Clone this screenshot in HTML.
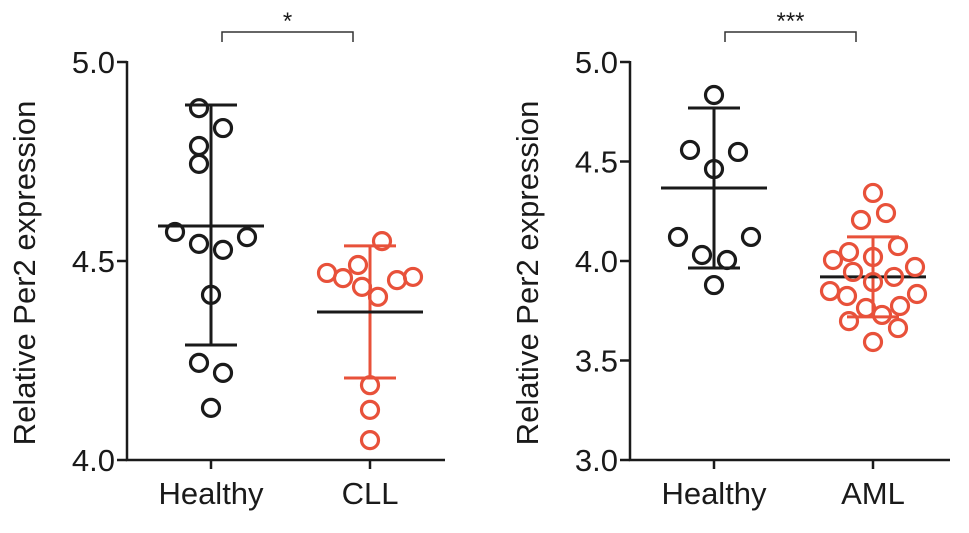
<!DOCTYPE html>
<html><head><meta charset="utf-8"><style>
body{margin:0;background:#fff}
svg{display:block;font-family:"Liberation Sans",Arial,sans-serif}
</style></head><body>
<svg id="c" width="969" height="533" viewBox="0 0 969 533"></svg>
<script>
const leftCats=["Healthy","CLL"];
const leftHealthy=[4.884,4.834,4.789,4.744,4.573,4.543,4.528,4.560,4.415,4.244,4.219,4.131];
const leftCLL=[4.550,4.490,4.470,4.457,4.435,4.410,4.452,4.460,4.188,4.126,4.050];
const leftStats=[[4.588,4.892,4.289],[4.372,4.538,4.206]];
const leftTicks=["4.0","4.5","5.0"];
const rightCats=["Healthy","AML"];
const rightHealthy=[4.834,4.558,4.548,4.462,4.121,4.121,4.030,4.005,3.879];
const rightAML=[4.342,4.241,4.206,4.075,4.045,4.020,4.005,3.970,3.945,3.920,3.894,3.849,3.824,3.834,3.764,3.774,3.729,3.698,3.663,3.593];
const rightStats=[[4.367,4.769,3.965],[3.920,4.121,3.719]];
const rightTicks=["3.0","3.5","4.0","4.5","5.0"];
const leftOff=[[-12,12,-12,-12,-36,-12,12,36,0,-12,12,0],[12,-12,-43,-27,-8,8,27,43,0,0,0]];
const rightOff=[[0,-24,24,0,-36,37,-12,13,0],[0,13,-12,25,-24,0,-40,42,-20,21,0,-43,-26,44,-7,27,9,-24,25,0]];
const NS="http://www.w3.org/2000/svg";
const svg=document.getElementById('c');
function el(t,a,p){const e=document.createElementNS(NS,t);for(const k in a)e.setAttribute(k,a[k]);(p||svg).appendChild(e);return e;}
const BLK="#1a1a1a",RED="#e8513a";
function panel(o){
  const g=el('g',{});
  
  
  const y=v=>o.y0+(v-o.vmin)/(o.vmax-o.vmin)*(o.y1-o.y0);
  const ax=el('path',{d:`M${o.ax},${o.y1-1}V${o.y0}H${o.ax+o.w}`,stroke:BLK,'stroke-width':2.5,fill:'none'},g);
  
  o.ticks.forEach(t=>{const v=parseFloat(t),yy=y(v);
    el('line',{x1:o.ax-10,x2:o.ax,y1:yy,y2:yy,stroke:BLK,'stroke-width':2.5},g);
    const tx=el('text',{x:o.ax-12,y:yy+11,'text-anchor':'end','font-size':31,fill:BLK},g);tx.textContent=t;
    });
  const yl=el('text',{transform:`translate(${o.ax-92},${(o.y0+o.y1)/2+12}) rotate(-90)`,'text-anchor':'middle','font-size':31,fill:BLK},g);
  yl.textContent="Relative Per2 expression";
  
  o.cats.forEach((c,i)=>{const cx=o.cx[i],col=i?RED:BLK;
    el('line',{x1:cx,x2:cx,y1:o.y0,y2:o.y0+9,stroke:BLK,'stroke-width':2.5},g);
    const tx=el('text',{x:cx,y:o.y0+44,'text-anchor':'middle','font-size':31,fill:BLK},g);tx.textContent=c;
    
    const s=o.stats[i];
    el('line',{x1:cx,x2:cx,y1:y(s[1]),y2:y(s[2]),stroke:col,'stroke-width':3},g);
    el('line',{x1:cx-26,x2:cx+26,y1:y(s[1]),y2:y(s[1]),stroke:col,'stroke-width':3},g);
    el('line',{x1:cx-26,x2:cx+26,y1:y(s[2]),y2:y(s[2]),stroke:col,'stroke-width':3},g);
    const m=el('line',{x1:cx-53,x2:cx+53,y1:y(s[0]),y2:y(s[0]),stroke:BLK,'stroke-width':3},g);
    
    o.data[i].forEach((v,j)=>{const p=el('circle',{cx:cx+o.off[i][j],cy:y(v),r:8.5,fill:'none',stroke:col,'stroke-width':3.2},g);
      });
  });
  const b=el('path',{d:`M${o.cx[0]+11},42V32H${o.cx[1]-17}V42`,stroke:'#333','stroke-width':1.5,fill:'none'},g);
  
  const st=el('text',{x:(o.cx[0]+o.cx[1])/2-3,y:29,'text-anchor':'middle','font-size':24,fill:BLK},g);st.textContent=o.sig;
  
}
panel({name:'cll-panel',ax:127,w:318,y0:460,y1:62,vmin:4,vmax:5,ticks:leftTicks,cats:leftCats,cx:[211,370],data:[leftHealthy,leftCLL],stats:leftStats,off:leftOff,sig:"*"});
panel({name:'aml-panel',ax:630,w:320,y0:460,y1:62,vmin:3,vmax:5,ticks:rightTicks,cats:rightCats,cx:[714,873],data:[rightHealthy,rightAML],stats:rightStats,off:rightOff,sig:"***"});
</script>
</body></html>
